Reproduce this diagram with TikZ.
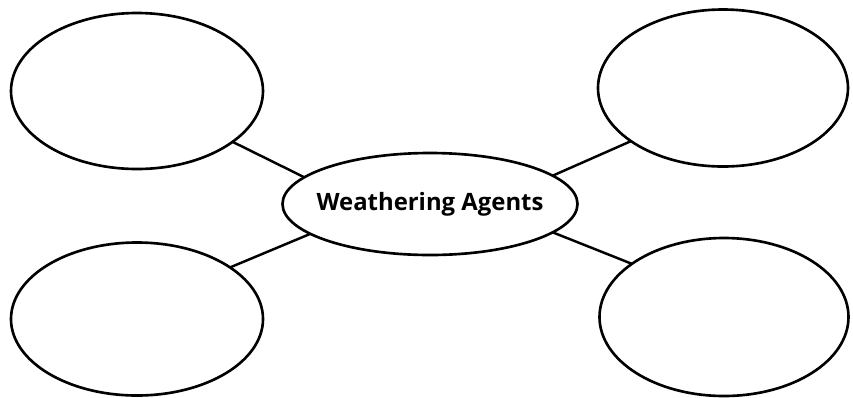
\documentclass[tikz,border=0pt]{standalone}
\usepackage{fontspec}
\setsansfont{Open Sans}
\usetikzlibrary{shapes.geometric}
\tikzstyle{every node}=[font=\sffamily\bfseries]
\tikzstyle{blank}=[draw,ellipse,line width=1.5pt,outer sep=0pt,inner sep=0pt]
\tikzstyle{link}=[line width=1.4pt]

\begin{document}
\begin{tikzpicture}[x=0.02cm,y=-0.02cm]
    \useasboundingbox (0,0) rectangle (853,397);
    \node[blank,minimum width=295*0.02cm,minimum height=102*0.02cm,
      label={[font=\sffamily\bfseries\fontsize{13.6}{16}\selectfont]center:Weathering Agents}] (agents) at (430,204) {};
    \node[blank,minimum width=252*0.02cm,minimum height=156*0.02cm] (tl) at (137,91) {};
    \node[blank,minimum width=252*0.02cm,minimum height=153*0.02cm] (bl) at (137,319) {};
    \node[blank,minimum width=250*0.02cm,minimum height=157*0.02cm] (tr) at (723,88) {};
    \node[blank,minimum width=249*0.02cm,minimum height=158*0.02cm] (br) at (724,317) {};
    \draw[link] (tl.-28)--(agents.168);
    \draw[link] (bl.29)--(agents.-166);
    \draw[link] (tr.210)--(agents.13);
    \draw[link] (br.150)--(agents.-13);
\end{tikzpicture}
\end{document}
